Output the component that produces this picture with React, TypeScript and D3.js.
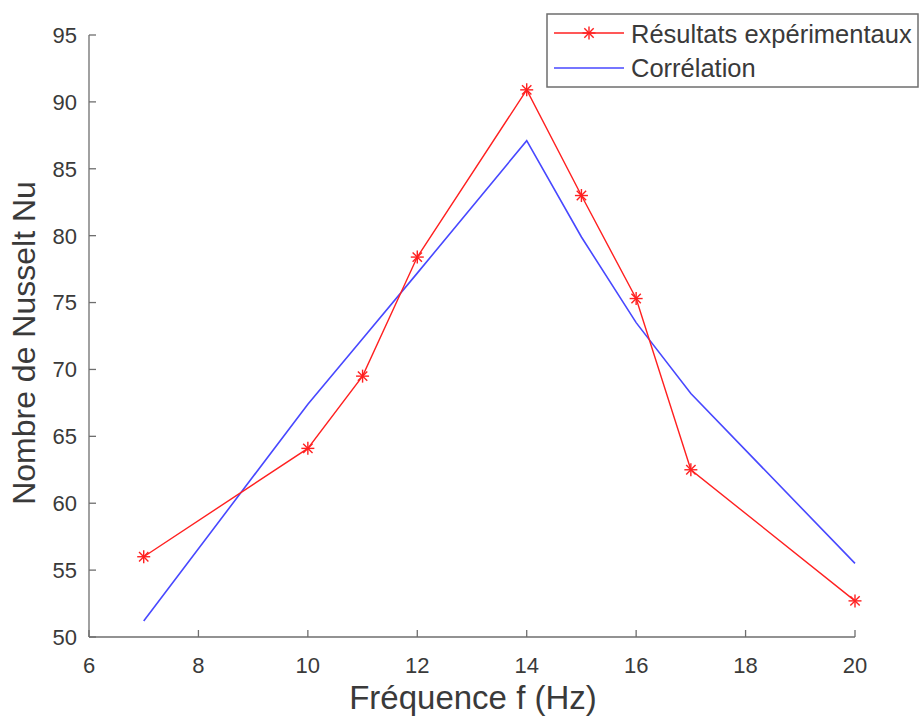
import React from "react";
import * as d3 from "d3";

const freqs = [7, 10, 11, 12, 14, 15, 16, 17, 20];
const experimental = [56.0, 64.1, 69.5, 78.4, 90.9, 83.0, 75.3, 62.5, 52.7];
const correlation = [51.2, 67.4, 72.3, 77.2, 87.1, 79.9, 73.5, 68.2, 55.5];
const xTicks = [6, 8, 10, 12, 14, 16, 18, 20];
const yTicks = [50, 55, 60, 65, 70, 75, 80, 85, 90, 95];
const seriesNames = ["Résultats expérimentaux", "Corrélation"];
const xLabel = "Fréquence f (Hz)";
const yLabel = "Nombre de Nusselt Nu";

const W = 920;
const H = 718;
const FONT = "'Liberation Sans', Arial, Helvetica, sans-serif";
const AXIS = "#6e6e6e";
const TEXT = "#3a3a3a";
const RED = "#ff2020";
const BLUE = "#4848ff";

function Asterisk({ cx, cy, r }: { cx: number; cy: number; r: number }) {
  const d = r * 0.72;
  return (
    <g stroke={RED} strokeWidth={1.4}>
      <line x1={cx - r} y1={cy} x2={cx + r} y2={cy} />
      <line x1={cx} y1={cy - r} x2={cx} y2={cy + r} />
      <line x1={cx - d} y1={cy - d} x2={cx + d} y2={cy + d} />
      <line x1={cx - d} y1={cy + d} x2={cx + d} y2={cy - d} />
    </g>
  );
}

export default function App() {
  const x = d3.scaleLinear().domain([6, 20]).range([89, 855]);
  const y = d3.scaleLinear().domain([50, 95]).range([637, 35]);
  const line = d3
    .line<[number, number]>()
    .x((d) => x(d[0]))
    .y((d) => y(d[1]));
  const expPts = freqs.map((f, i) => [f, experimental[i]] as [number, number]);
  const corPts = freqs.map((f, i) => [f, correlation[i]] as [number, number]);

  return (
    <svg
      width={W}
      height={H}
      style={{ position: "absolute", left: 0, top: 0, background: "#fff" }}
      fontFamily={FONT}
    >
      <rect x={0} y={0} width={W} height={H} fill="#fff" />
      {/* axes */}
      <line x1={x(6)} y1={y(95)} x2={x(6)} y2={y(50)} stroke={AXIS} strokeWidth={1.3} />
      <line x1={x(6)} y1={y(50)} x2={x(20)} y2={y(50)} stroke={AXIS} strokeWidth={1.3} />
      {yTicks.map((t) => (
        <g key={"y" + t}>
          <line x1={x(6)} x2={x(6) + 7} y1={y(t)} y2={y(t)} stroke={AXIS} strokeWidth={1.3} />
          <text x={77} y={y(t)} dy="0.36em" textAnchor="end" fontSize={22} fill={TEXT}>
            {t}
          </text>
        </g>
      ))}
      {xTicks.map((t) => (
        <g key={"x" + t}>
          <line x1={x(t)} x2={x(t)} y1={y(50)} y2={y(50) - 7} stroke={AXIS} strokeWidth={1.3} />
          <text x={x(t)} y={673} textAnchor="middle" fontSize={22} fill={TEXT}>
            {t}
          </text>
        </g>
      ))}
      <text x={473} y={709} textAnchor="middle" fontSize={33} fill={TEXT}>
        {xLabel}
      </text>
      <text
        transform="translate(35,343) rotate(-90)"
        textAnchor="middle"
        fontSize={32}
        fill={TEXT}
      >
        {yLabel}
      </text>
      {/* series */}
      <path d={line(corPts) || ""} fill="none" stroke={BLUE} strokeWidth={1.6} />
      <path d={line(expPts) || ""} fill="none" stroke={RED} strokeWidth={1.4} />
      {expPts.map((p, i) => (
        <Asterisk key={i} cx={x(p[0])} cy={y(p[1])} r={6.5} />
      ))}
      {/* legend */}
      <rect x={547} y={14} width={371} height={73} fill="#fff" stroke={AXIS} strokeWidth={1.5} />
      <line x1={554} x2={624} y1={33} y2={33} stroke={RED} strokeWidth={1.4} />
      <Asterisk cx={589} cy={33} r={6.5} />
      <line x1={554} x2={624} y1={68} y2={68} stroke={BLUE} strokeWidth={1.6} />
      <text x={631} y={43} fontSize={25.5} fill={TEXT}>
        {seriesNames[0]}
      </text>
      <text x={631} y={77} fontSize={25.5} fill={TEXT}>
        {seriesNames[1]}
      </text>
    </svg>
  );
}
